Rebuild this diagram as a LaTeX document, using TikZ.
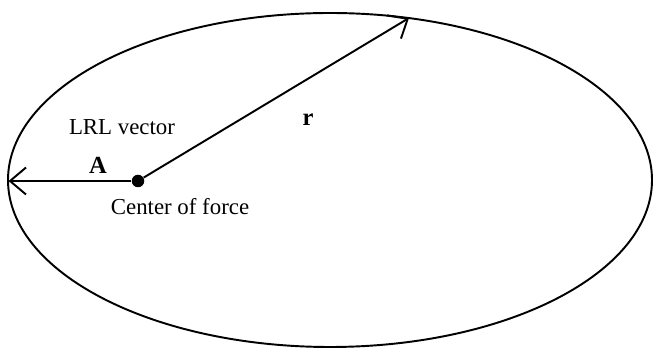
\documentclass[tikz,border=0pt]{standalone}
\usepackage{fontspec}
\setmainfont{Liberation Serif}
\usetikzlibrary{arrows.meta}

\begin{document}
\begin{tikzpicture}[
    font=\fontsize{13}{15}\selectfont,
    % Style for the two vectors
    vec/.style={
        line width=1.1pt,
        -{Straight Barb[length=3.2mm, width=5.4mm]}
    },
    % Style for the orbit
    orbit/.style={
        line width=1.1pt
    },
    % Style for the center of force
    dot/.style={
        circle, fill=black, inner sep=0pt, minimum size=2.5mm
    }
]

\useasboundingbox (0,0) rectangle (13.14,7.02);

% --- Draw the orbit ---
\draw[orbit] (6.6,3.42) ellipse [x radius=6.44, y radius=3.34];

% --- Points on the orbit ---
\coordinate (peri) at (0.17,3.40);
\coordinate (body) at (8.18,6.66);

% --- Center of force ---
\node[dot] (cof) at (2.76,3.40) {};
\node (coflabel) at (3.6,2.88) {Center of force};

% --- LRL vector A ---
\draw[vec] (cof) -- (peri);
\node[font=\fontsize{14}{16}\selectfont\bfseries] (A) at (1.96,3.72) {A};
\node (lrl) at (2.44,4.48) {LRL vector};

% --- Position vector r ---
\draw[vec] (cof) -- (body);
\node[font=\fontsize{14}{16}\selectfont\bfseries] (r) at (6.16,4.62) {r};

\end{tikzpicture}
\end{document}
